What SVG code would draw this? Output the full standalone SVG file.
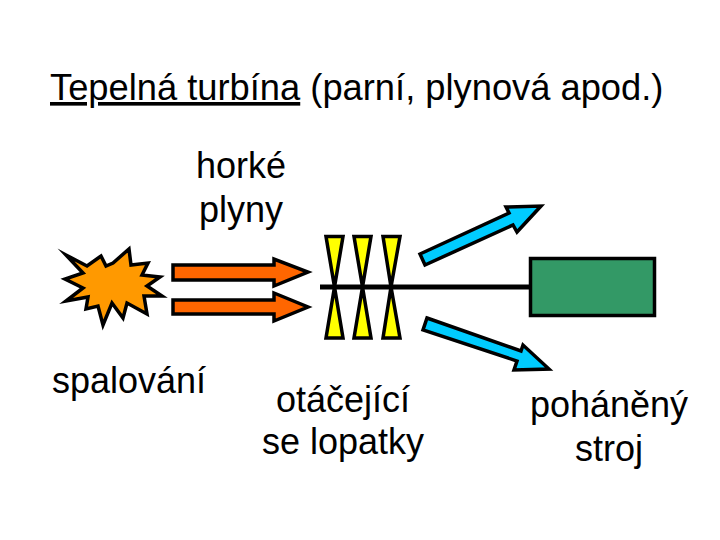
<svg xmlns="http://www.w3.org/2000/svg" width="720" height="540" viewBox="0 0 720 540">
<style>
text{font-family:"Liberation Sans",Arial,sans-serif;font-size:36px;fill:#000;text-anchor:middle}
.s{stroke:#000;stroke-width:3.500;stroke-linejoin:miter;stroke-miterlimit:10}
.o{fill:#ff6600}.b{fill:#00ccff}.y{fill:#ffff00}
</style>
<rect width="720" height="540" fill="#fff"/>
<g id="title"><text x="50" y="100" style="text-anchor:start;font-size:36.300px"><tspan text-decoration="underline">Tepelná turbína</tspan> (parní, plynová apod.)</text></g>
<g id="label-hot"><text x="241" y="178">horké</text><text x="241" y="222">plyny</text></g>
<g id="burst"><polygon class="s" fill="#ff9900" points="66,255 87,266 101,256 106,266 113,263 129,249 131,265 148,263 142,275 160,277 147,286 162,296 144,296 147,314 127,303 123,318 112,303 103,325 98,306 86,309 88,297 66,301 83,288 65,279 83,273"/></g>
<g id="label-burn"><text x="129" y="393">spalování</text></g>
<g id="connectors">
<polygon class="s o" points="173,265 274,265 274,259 308,272 274,286 274,280 173,280"/>
<polygon class="s o" points="173,300 274,300 274,293 308,307 274,321 274,314 173,314"/>
<polygon class="s b" points="420,254 509,213 506,207 541,206 517,232 513,225 425,265"/>
<polygon class="s b" points="427,318 521,351 523,345 549,369 514,370 517,361 423,330"/>
<line x1="320" y1="287" x2="531" y2="287" stroke="#000" stroke-width="5"/>
</g>
<g id="blades">
<polygon class="s y" points="326,236.500 343,236.500 334.500,287"/><polygon class="s y" points="334.500,287 326,338 343,338"/>
<polygon class="s y" points="354,236.500 371,236.500 362.500,287"/><polygon class="s y" points="362.500,287 354,338 371,338"/>
<polygon class="s y" points="383,236.500 400,236.500 391,287"/><polygon class="s y" points="391,287 383,338 400,338"/>
</g>
<g id="machine"><rect class="s" x="530.500" y="258.500" width="124" height="57" fill="#339966"/></g>
<g id="label-blades"><text x="343" y="412">otáčející</text><text x="343" y="454">se lopatky</text></g>
<g id="label-machine"><text x="609" y="417">poháněný</text><text x="609" y="461">stroj</text></g>
</svg>
